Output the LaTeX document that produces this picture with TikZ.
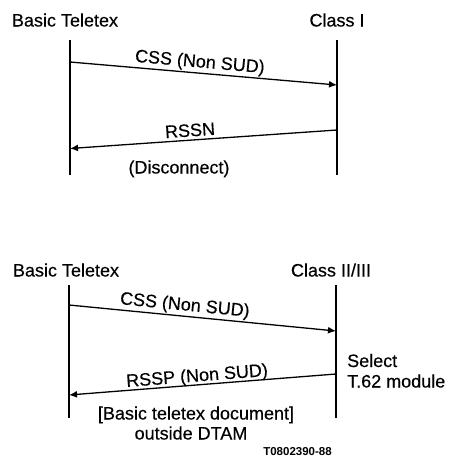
\documentclass[tikz,border=0pt]{standalone}
\usepackage{fontspec}
\setmainfont{Liberation Sans}
\newfontfamily\lblfont{Liberation Sans}[FakeBold=0.35]
\usetikzlibrary{arrows.meta}
\begin{document}
\begin{tikzpicture}[x=1pt,y=-1pt,
  lifeline/.style={line width=1.7pt},
  msg/.style={line width=1.3pt,-{Latex[length=8pt,width=7pt]}},
  lbl/.style={font=\lblfont\fontsize{18}{20}\selectfont, inner sep=0pt,
              text height=13pt, text depth=0pt},
  ref/.style={font=\bfseries\fontsize{11.5}{13}\selectfont, inner sep=0pt}]
\useasboundingbox (0,0) rectangle (458,466);

% ---- Basic Teletex to Class I ----
\node[lbl] (btA) at (65,20) {Basic Teletex};
\node[lbl] (clA) at (337,20) {Class I};
\coordinate (ltA) at (70,40);  \coordinate (lbA) at (70,175);
\coordinate (rtA) at (337,40); \coordinate (rbA) at (337,175);
\draw[lifeline] (ltA) -- (lbA);
\draw[lifeline] (rtA) -- (rbA);
\coordinate (cssAs) at (70,62);  \coordinate (cssAe) at (337,85);
\draw[msg] (cssAs) -- (cssAe);
\node[lbl, rotate=-5] (cssAl) at (200,61) {CSS (Non SUD)};
\coordinate (rssnS) at (337,130); \coordinate (rssnE) at (70,148.5);
\draw[msg] (rssnS) -- (rssnE);
\node[lbl, rotate=3.9] (rssnL) at (190,130) {RSSN};
\node[lbl] (discL) at (179,167) {(Disconnect)};

% ---- Basic Teletex to Class II/III ----
\node[lbl] (btB) at (66,270) {Basic Teletex};
\node[lbl] (clB) at (331,270) {Class II/III};
\coordinate (ltB) at (69,285);  \coordinate (lbB) at (69,418);
\coordinate (rtB) at (336,285); \coordinate (rbB) at (336,418);
\draw[lifeline] (ltB) -- (lbB);
\draw[lifeline] (rtB) -- (rbB);
\coordinate (cssBs) at (69,305);  \coordinate (cssBe) at (336,331);
\draw[msg] (cssBs) -- (cssBe);
\node[lbl, rotate=-5.6] (cssBl) at (185,304) {CSS (Non SUD)};
\coordinate (rsspS) at (336,374); \coordinate (rsspE) at (69,395);
\draw[msg] (rsspS) -- (rsspE);
\node[lbl, rotate=4.5] (rsspL) at (197,375) {RSSP (Non SUD)};
\node[lbl, anchor=west] (selL) at (347,360.5) {Select};
\node[lbl, anchor=west] (modL) at (347,381) {T.62 module};
\node[lbl] (docL) at (196,413) {[Basic teletex document]};
\node[lbl] (outL) at (191,433) {outside DTAM};
\node[ref] (refL) at (297.5,452) {T0802390-88};
\end{tikzpicture}
\end{document}
